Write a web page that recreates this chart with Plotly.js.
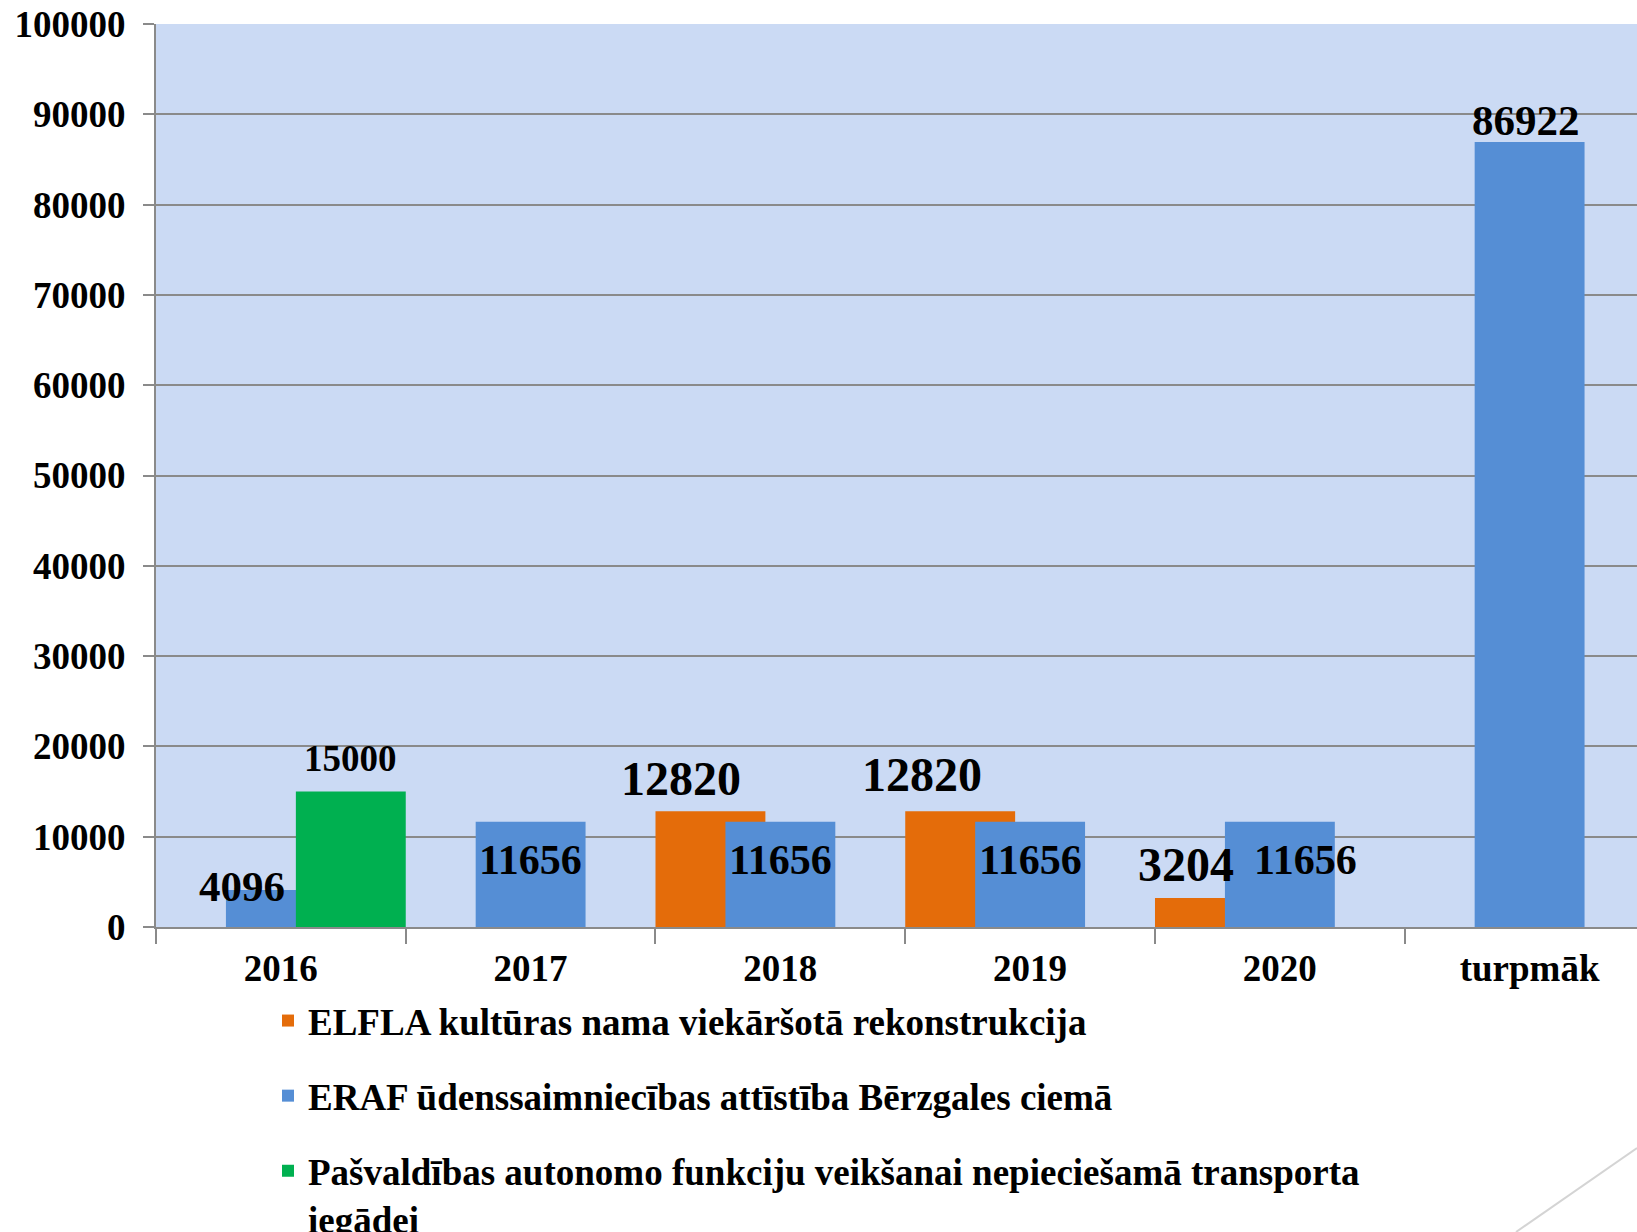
<!DOCTYPE html>
<html>
<head>
<meta charset="utf-8">
<script src="https://cdn.plot.ly/plotly-3.0.1.min.js"></script>
<style>
  html, body { margin: 0; padding: 0; background: #ffffff; overflow: hidden; }
  #chart { width: 1637px; height: 1232px; }
</style>
</head>
<body>
<div id="chart"></div>
<script>
// ---- Data ----
const categories = ["2016", "2017", "2018", "2019", "2020", "turpmāk"];

const elflaName = "ELFLA kultūras nama viekāršotā rekonstrukcija";
const elflaCats = ["2018", "2019", "2020"];
const elflaValues = [12820, 12820, 3204];

const erafName = "ERAF ūdenssaimniecības attīstība Bērzgales ciemā";
const erafCats = ["2016", "2017", "2018", "2019", "2020", "turpmāk"];
const erafValues = [4096, 11656, 11656, 11656, 11656, 86922];

const transName = "Pašvaldības autonomo funkciju veikšanai nepieciešamā transporta<br>iegādei";
const transCats = ["2016"];
const transValues = [15000];

const yTickValues = [0, 10000, 20000, 30000, 40000, 50000, 60000, 70000, 80000, 90000, 100000];

// ---- Styling ----
const fontFamily = "Liberation Serif, Times New Roman, serif";
const gridColor = "#8a8a8a";
const colors = { elfla: "#E46C0A", eraf: "#558ED5", trans: "#00B050" };
const barWidth = 0.44;
const offsets = { elfla: -0.5, eraf: -0.22, trans: 0.06 };

// label nudges (px) and sizes, styling only
const labelStyle = {
  elfla: { "2018": [-29, 33, 48], "2019": [-38, 37, 48], "2020": [-24, 34, 48] },
  eraf: { "2016": [-39, 4, 43], "2017": [0, -38, 42], "2018": [0, -38, 42], "2019": [0, -38, 42], "2020": [26, -38, 42], "turpmāk": [-4, 22, 43] },
  trans: { "2016": [0, 33, 37] }
};

const series = [
  { key: "elfla", name: elflaName, cats: elflaCats, vals: elflaValues },
  { key: "eraf", name: erafName, cats: erafCats, vals: erafValues },
  { key: "trans", name: transName, cats: transCats, vals: transValues }
];

const traces = series.map((s, i) => ({
  type: "bar",
  name: s.name,
  x: s.cats,
  y: s.vals,
  width: barWidth,
  offset: offsets[s.key],
  marker: { color: colors[s.key], line: { width: 0 } },
  legendgroup: "g" + i,
  hoverinfo: "x+y"
}));

const annotations = [];
series.forEach(s => {
  s.cats.forEach((c, j) => {
    const st = labelStyle[s.key][c];
    annotations.push({
      x: categories.indexOf(c) + offsets[s.key] + barWidth / 2,
      y: s.vals[j],
      xref: "x", yref: "y",
      text: String(s.vals[j]),
      showarrow: false,
      xanchor: "center", yanchor: "middle",
      xshift: st[0], yshift: st[1],
      font: { family: fontFamily, size: st[2], color: "#000000", weight: "bold" }
    });
  });
});

const W = 1637, H = 1232;
const mL = 156, mT = 24, mB = 305, mR = 0;
const plotW = W - mL - mR, plotH = H - mT - mB;
const px2x = p => (p - mL) / plotW;
const px2y = p => (H - mB - p) / plotH;

const layout = {
  width: W, height: H,
  margin: { l: mL, r: mR, t: mT, b: mB, pad: 0, autoexpand: false },
  paper_bgcolor: "#ffffff",
  plot_bgcolor: "#CBDAF4",
  barmode: "overlay",
  showlegend: true,
  font: { family: fontFamily, color: "#000000" },
  xaxis: {
    type: "category",
    categoryorder: "array",
    categoryarray: categories,
    range: [-0.5, 5.43],
    tickson: "boundaries",
    ticks: "outside", ticklen: 15, tickwidth: 2, tickcolor: gridColor,
    showline: true, linecolor: gridColor, linewidth: 2,
    showgrid: false,
    ticklabelstandoff: 8,
    tickfont: { family: fontFamily, size: 37, color: "#000000", weight: "bold" },
    fixedrange: true,
    automargin: false
  },
  yaxis: {
    range: [0, 100000],
    tickmode: "array",
    tickvals: yTickValues,
    ticktext: yTickValues.map(v => String(v)),
    showgrid: true, gridcolor: gridColor, gridwidth: 2,
    zeroline: false,
    ticks: "outside", ticklen: 11, tickwidth: 2, tickcolor: gridColor,
    showline: true, linecolor: gridColor, linewidth: 2,
    ticklabelstandoff: 10,
    tickfont: { family: fontFamily, size: 37, color: "#000000", weight: "bold" },
    fixedrange: true,
    automargin: false
  },
  legend: {
    orientation: "v",
    x: px2x(268), y: px2y(990),
    xanchor: "left", yanchor: "top",
    valign: "top",
    bgcolor: "rgba(0,0,0,0)",
    borderwidth: 0,
    traceorder: "grouped",
    tracegroupgap: 24,
    itemclick: false, itemdoubleclick: false,
    font: { family: fontFamily, size: 37, color: "#000000", weight: "bold" }
  },
  annotations: annotations,
  shapes: [{
    type: "line", xref: "paper", yref: "paper",
    x0: px2x(1516), y0: px2y(1232), x1: px2x(1637), y1: px2y(1148),
    line: { color: "#d4d4d4", width: 2 }
  }]
};

Plotly.newPlot("chart", traces, layout, { displayModeBar: false, staticPlot: false, responsive: false });
</script>
</body>
</html>
